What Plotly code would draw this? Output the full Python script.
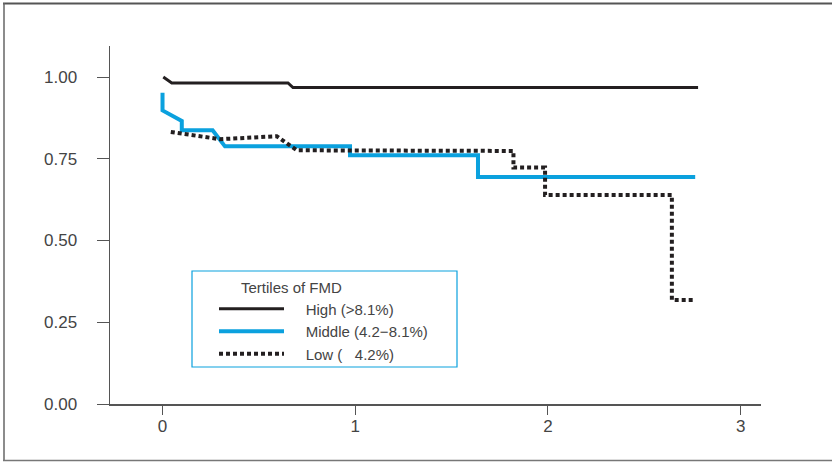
import plotly.graph_objects as go

# ---- data ----
series_names = ["High (>8.1%)", "Middle (4.2\u22128.1%)", "Low (\u00a0\u00a0\u00a04.2%)"]
legend_title = "Tertiles of FMD"

high_x = [0.004, 0.048, 0.651, 0.677, 2.779]
high_y = [1.000, 0.982, 0.982, 0.968, 0.968]

mid_x = [0.000, 0.000, 0.100, 0.100, 0.260, 0.324, 0.973, 0.973, 1.637, 1.637, 2.764]
mid_y = [0.952, 0.898, 0.866, 0.837, 0.837, 0.788, 0.788, 0.761, 0.761, 0.694, 0.694]

low_x = [0.043, 0.298, 0.593, 0.697, 1.821, 1.821, 1.985, 1.985, 2.643, 2.643, 2.764]
low_y = [0.832, 0.810, 0.819, 0.776, 0.774, 0.723, 0.723, 0.639, 0.639, 0.318, 0.318]

x_ticks = [0, 1, 2, 3]
y_ticks = [0.00, 0.25, 0.50, 0.75, 1.00]
y_tick_text = ["0.00", "0.25", "0.50", "0.75", "1.00"]

# ---- styles ----
DARK = "#231f20"
BLUE = "#0ba1de"
AXIS = "#555555"
TEXT = "#444444"
FONT = "Liberation Sans, Arial, sans-serif"
PAD = "\u00a0" * 4

fig = go.Figure()
fig.add_trace(go.Scatter(x=high_x, y=high_y, mode="lines", name=PAD + series_names[0],
                         line=dict(color=DARK, width=3)))
fig.add_trace(go.Scatter(x=mid_x, y=mid_y, mode="lines", name=PAD + series_names[1],
                         line=dict(color=BLUE, width=4)))
fig.add_trace(go.Scatter(x=low_x, y=low_y, mode="lines", name=PAD + series_names[2],
                         line=dict(color=DARK, width=4, dash="4px,3px")))

W, H = 832, 462
L, R, T, B = 110, 71, 46, 58
pw, ph = W - L - R, H - T - B

def px_x(p):
    return (p - L) / pw

def px_y(p):
    return (H - B - p) / ph

fig.update_layout(
    width=W, height=H,
    margin=dict(l=L, r=R, t=T, b=B),
    paper_bgcolor="white", plot_bgcolor="white",
    font=dict(family=FONT, size=15, color=TEXT),
    showlegend=True,
    legend=dict(
        x=px_x(214), y=px_y(273), xanchor="left", yanchor="top",
        bgcolor="rgba(0,0,0,0)", borderwidth=0,
        itemwidth=65,
        title=dict(text="\u00a0" * 6 + legend_title, font=dict(size=15, color=TEXT)),
        font=dict(size=15, color=TEXT),
        traceorder="normal",
    ),
    xaxis=dict(
        range=[-0.2725, 3.1055], tickmode="array", tickvals=x_ticks,
        showgrid=False, zeroline=False, showline=True, linecolor=AXIS, linewidth=1.5,
        ticks="outside", ticklen=9, tickcolor=AXIS, tickwidth=1,
        tickfont=dict(family=FONT, size=17, color=TEXT), ticklabelstandoff=-3,
    ),
    yaxis=dict(
        range=[0, 1.095], tickmode="array", tickvals=y_ticks, ticktext=y_tick_text,
        showgrid=False, zeroline=False, showline=True, linecolor=AXIS, linewidth=1.5,
        ticks="outside", ticklen=12, tickcolor=AXIS, tickwidth=1,
        tickfont=dict(family=FONT, size=17, color=TEXT), ticklabelstandoff=16,
    ),
    shapes=[
        # legend box
        dict(type="rect", xref="paper", yref="paper",
             x0=px_x(192), x1=px_x(457), y0=px_y(367), y1=px_y(271),
             line=dict(color=BLUE, width=1.2), fillcolor="rgba(0,0,0,0)", layer="below"),
        # outer frame (top, left, bottom)
        dict(type="line", xref="paper", yref="paper",
             x0=px_x(3), x1=px_x(832), y0=px_y(3.5), y1=px_y(3.5),
             line=dict(color="#555555", width=2)),
        dict(type="line", xref="paper", yref="paper",
             x0=px_x(4), x1=px_x(4), y0=px_y(3), y1=px_y(460.5),
             line=dict(color="#666666", width=1.5)),
        dict(type="line", xref="paper", yref="paper",
             x0=px_x(3), x1=px_x(832), y0=px_y(460.5), y1=px_y(460.5),
             line=dict(color="#777777", width=1.5)),
    ],
)

fig.write_html("out.html",
               config={"displayModeBar": False, "staticPlot": True},
               post_script="document.body.style.margin='0';document.body.style.overflow='hidden';")
